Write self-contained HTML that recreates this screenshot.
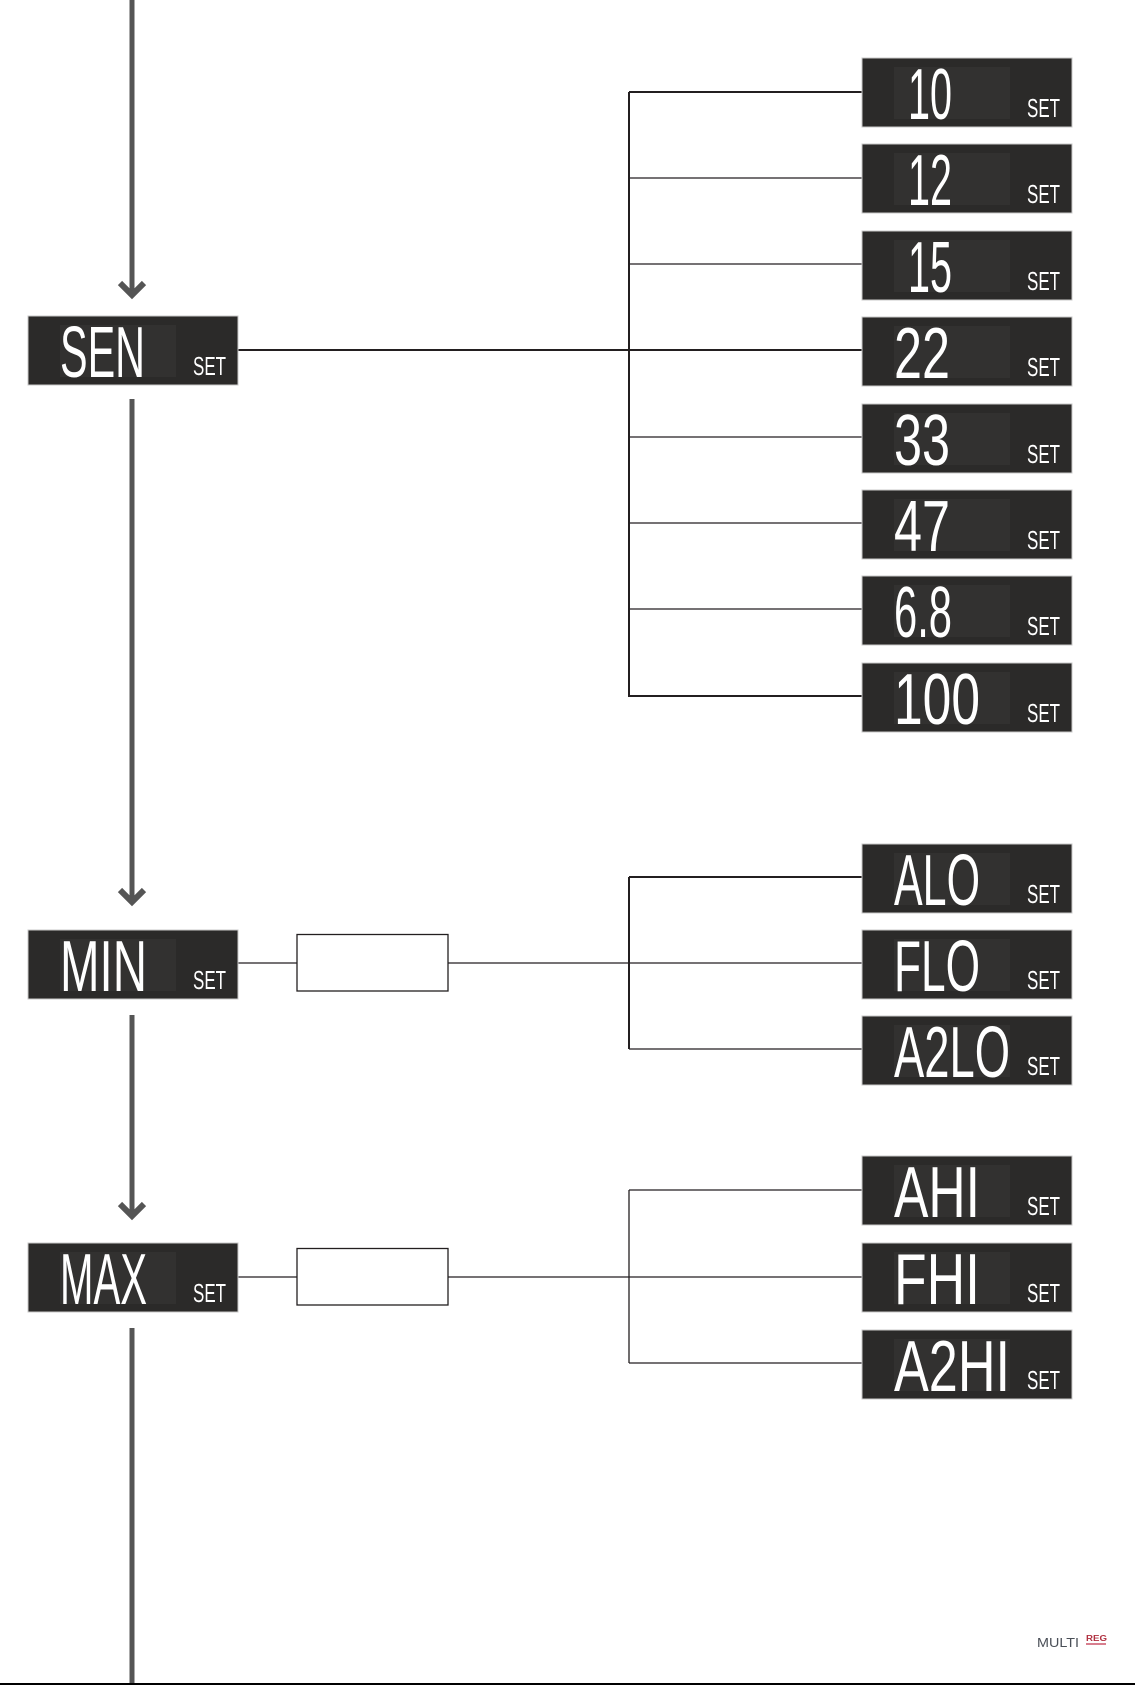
<!DOCTYPE html>
<html><head><meta charset="utf-8"><style>
html,body{margin:0;padding:0;background:#fff}
svg{display:block}
.d{font-family:"Liberation Sans Narrow","Liberation Sans",sans-serif;fill:#fff;font-weight:normal}
</style></head><body>
<svg width="1135" height="1685" viewBox="0 0 1135 1685" xmlns="http://www.w3.org/2000/svg">
<defs>
<g id="bx">
<rect x="0" y="0" width="210" height="69" fill="#2b2a29" stroke="#c8c8c8" stroke-width="1"/>
<rect x="32" y="9" width="116" height="52" fill="#323130"/>
<text x="165" y="59" font-size="26" textLength="33" lengthAdjust="spacingAndGlyphs" class="d" style="font-family:'Liberation Sans Narrow','Liberation Sans',sans-serif;fill:#fff">SET</text>
</g>
</defs>
<!-- main vertical line with arrows -->
<g stroke="#555" stroke-width="5" fill="none">
<line x1="132" y1="0" x2="132" y2="294"/>
<polyline points="120,283 132,295 144,283" stroke-width="6"/>
<line x1="132" y1="399" x2="132" y2="901"/>
<polyline points="120,890 132,902 144,890" stroke-width="6"/>
<line x1="132" y1="1015" x2="132" y2="1215"/>
<polyline points="120,1204 132,1216 144,1204" stroke-width="6"/>
<line x1="132" y1="1328" x2="132" y2="1685"/>
</g>
<!-- connectors -->
<g stroke="#231f20" fill="none">
<line x1="238" y1="350" x2="862" y2="350" stroke-width="2"/>
<line x1="629" y1="92" x2="629" y2="697" stroke-width="2"/>
<line x1="629" y1="92" x2="862" y2="92" stroke-width="2"/>
<line x1="629" y1="178" x2="862" y2="178" stroke-width="1.3"/>
<line x1="629" y1="264" x2="862" y2="264" stroke-width="1.3"/>
<line x1="629" y1="437" x2="862" y2="437" stroke-width="1.3"/>
<line x1="629" y1="523" x2="862" y2="523" stroke-width="1.3"/>
<line x1="629" y1="609" x2="862" y2="609" stroke-width="1.3"/>
<line x1="629" y1="696" x2="862" y2="696" stroke-width="2"/>

<line x1="238" y1="963" x2="297" y2="963" stroke-width="1.3"/>
<rect x="297" y="934.5" width="151" height="56.5" stroke-width="1.3" fill="#fff"/>
<line x1="448" y1="963" x2="862" y2="963" stroke-width="1.3"/>
<line x1="629" y1="877" x2="629" y2="1049" stroke-width="2"/>
<line x1="629" y1="877" x2="862" y2="877" stroke-width="2"/>
<line x1="629" y1="1049" x2="862" y2="1049" stroke-width="1.3"/>

<line x1="238" y1="1277" x2="297" y2="1277" stroke-width="1.3"/>
<rect x="297" y="1248.5" width="151" height="56.5" stroke-width="1.3" fill="#fff"/>
<line x1="448" y1="1277" x2="862" y2="1277" stroke-width="1.3"/>
<line x1="629" y1="1190" x2="629" y2="1363" stroke-width="1.3"/>
<line x1="629" y1="1190" x2="862" y2="1190" stroke-width="1.3"/>
<line x1="629" y1="1363" x2="862" y2="1363" stroke-width="1.3"/>
</g>
<!-- left boxes -->
<use href="#bx" x="28" y="316"/>
<text class="d" x="60" y="377" font-size="72" textLength="85" lengthAdjust="spacingAndGlyphs">SEN</text>
<use href="#bx" x="28" y="930"/>
<text class="d" x="60" y="991" font-size="72" textLength="87" lengthAdjust="spacingAndGlyphs">MIN</text>
<use href="#bx" x="28" y="1243"/>
<text class="d" x="60" y="1304" font-size="72" textLength="87" lengthAdjust="spacingAndGlyphs">MAX</text>
<!-- right boxes -->
<use href="#bx" x="862" y="58"/>
<text class="d" x="908" y="119" font-size="72" textLength="44" lengthAdjust="spacingAndGlyphs">10</text>
<use href="#bx" x="862" y="144"/>
<text class="d" x="908" y="205" font-size="72" textLength="44" lengthAdjust="spacingAndGlyphs">12</text>
<use href="#bx" x="862" y="231"/>
<text class="d" x="908" y="292" font-size="72" textLength="44" lengthAdjust="spacingAndGlyphs">15</text>
<use href="#bx" x="862" y="317"/>
<text class="d" x="894" y="378" font-size="72" textLength="56" lengthAdjust="spacingAndGlyphs">22</text>
<use href="#bx" x="862" y="404"/>
<text class="d" x="894" y="465" font-size="72" textLength="56" lengthAdjust="spacingAndGlyphs">33</text>
<use href="#bx" x="862" y="490"/>
<text class="d" x="894" y="551" font-size="72" textLength="56" lengthAdjust="spacingAndGlyphs">47</text>
<use href="#bx" x="862" y="576"/>
<text class="d" x="894" y="637" font-size="72" textLength="58" lengthAdjust="spacingAndGlyphs">6.8</text>
<use href="#bx" x="862" y="663"/>
<text class="d" x="894" y="724" font-size="72" textLength="86" lengthAdjust="spacingAndGlyphs">100</text>

<use href="#bx" x="862" y="844"/>
<text class="d" x="894" y="905" font-size="72" textLength="86" lengthAdjust="spacingAndGlyphs">ALO</text>
<use href="#bx" x="862" y="930"/>
<text class="d" x="894" y="991" font-size="72" textLength="86" lengthAdjust="spacingAndGlyphs">FLO</text>
<use href="#bx" x="862" y="1016"/>
<text class="d" x="894" y="1077" font-size="72" textLength="116" lengthAdjust="spacingAndGlyphs">A2LO</text>

<use href="#bx" x="862" y="1156"/>
<text class="d" x="894" y="1217" font-size="72" textLength="86" lengthAdjust="spacingAndGlyphs">AHI</text>
<use href="#bx" x="862" y="1243"/>
<text class="d" x="894" y="1304" font-size="72" textLength="86" lengthAdjust="spacingAndGlyphs">FHI</text>
<use href="#bx" x="862" y="1330"/>
<text class="d" x="894" y="1391" font-size="72" textLength="116" lengthAdjust="spacingAndGlyphs">A2HI</text>

<!-- logo -->
<text x="1037" y="1647" font-family="Liberation Sans,sans-serif" font-size="13" fill="#4a4f57" textLength="42" lengthAdjust="spacingAndGlyphs">MULTI</text>
<text x="1086" y="1641" font-family="Liberation Sans,sans-serif" font-size="8" font-weight="bold" fill="#b03040" textLength="21" lengthAdjust="spacingAndGlyphs">REG</text>
<line x1="1086" y1="1644" x2="1106" y2="1644" stroke="#c0304a" stroke-width="1.3"/>
<line x1="0" y1="1684" x2="1135" y2="1684" stroke="#000" stroke-width="2"/>
</svg>
</body></html>
